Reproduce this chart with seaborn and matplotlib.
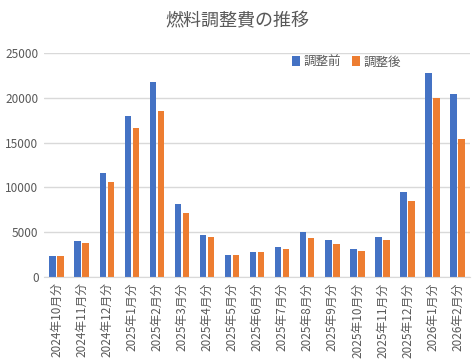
import pandas as pd
import matplotlib.pyplot as plt
import seaborn as sns

# Monthly fuel adjustment cost, before / after adjustment
months = ['2024年10月分', '2024年11月分', '2024年12月分', '2025年1月分', '2025年2月分',
          '2025年3月分', '2025年4月分', '2025年5月分', '2025年6月分', '2025年7月分',
          '2025年8月分', '2025年9月分', '2025年10月分', '2025年11月分', '2025年12月分',
          '2026年1月分', '2026年2月分']
before = [2300, 4050, 11570, 18000, 21730, 8110, 4720, 2500, 2750, 3390,
          5060, 4170, 3160, 4500, 9520, 22730, 20460]
after = [2300, 3760, 10640, 16590, 18490, 7110, 4430, 2500, 2750, 3160,
         4390, 3720, 2940, 4170, 8520, 20010, 15440]
series_names = ['調整前', '調整後']
yticks = [0, 5000, 10000, 15000, 20000, 25000]

df = pd.DataFrame({
    'month': months * 2,
    'value': before + after,
    'series': [series_names[0]] * len(months) + [series_names[1]] * len(months),
})

sns.set_style("white")
plt.rcParams['font.family'] = ['Noto Sans CJK JP', 'DejaVu Sans']
text_color = '#595959'

fig = plt.figure(figsize=(4.74, 3.6), dpi=100)
ax = fig.add_axes([0.093, 0.2306, 0.899, 0.6222])

sns.barplot(data=df, x='month', y='value', hue='series', order=months,
            hue_order=series_names, palette=['#4472C4', '#ED7D31'],
            width=0.64, gap=0.2, saturation=1, linewidth=0, ax=ax)

ax.set_ylim(0, 25000)
ax.set_xlim(-0.5, len(months) - 0.5)
ax.set_yticks(yticks)
ax.set_yticklabels([str(t) for t in yticks], fontsize=8.5, color=text_color)
ax.set_xticks(range(len(months)))
ax.set_xticklabels(months, rotation=90, fontsize=8.5, color=text_color)
ax.tick_params(axis='both', length=0, pad=4)
ax.yaxis.grid(True, color='#D9D9D9', linewidth=1)
ax.set_axisbelow(True)
ax.set_xlabel('')
ax.set_ylabel('')
for side in ['top', 'right', 'left']:
    ax.spines[side].set_visible(False)
ax.spines['bottom'].set_color('#D9D9D9')

ax.legend(loc='center', bbox_to_anchor=(0.71, 0.96), ncol=2, frameon=False,
          fontsize=9, handlelength=0.6, handleheight=0.9, handletextpad=0.3,
          columnspacing=0.9, labelcolor=text_color)

fig.text(0.5, 0.94, '燃料調整費の推移', ha='center', va='center',
         fontsize=13, color=text_color)

plt.savefig('out.png', dpi=100)
plt.close()
